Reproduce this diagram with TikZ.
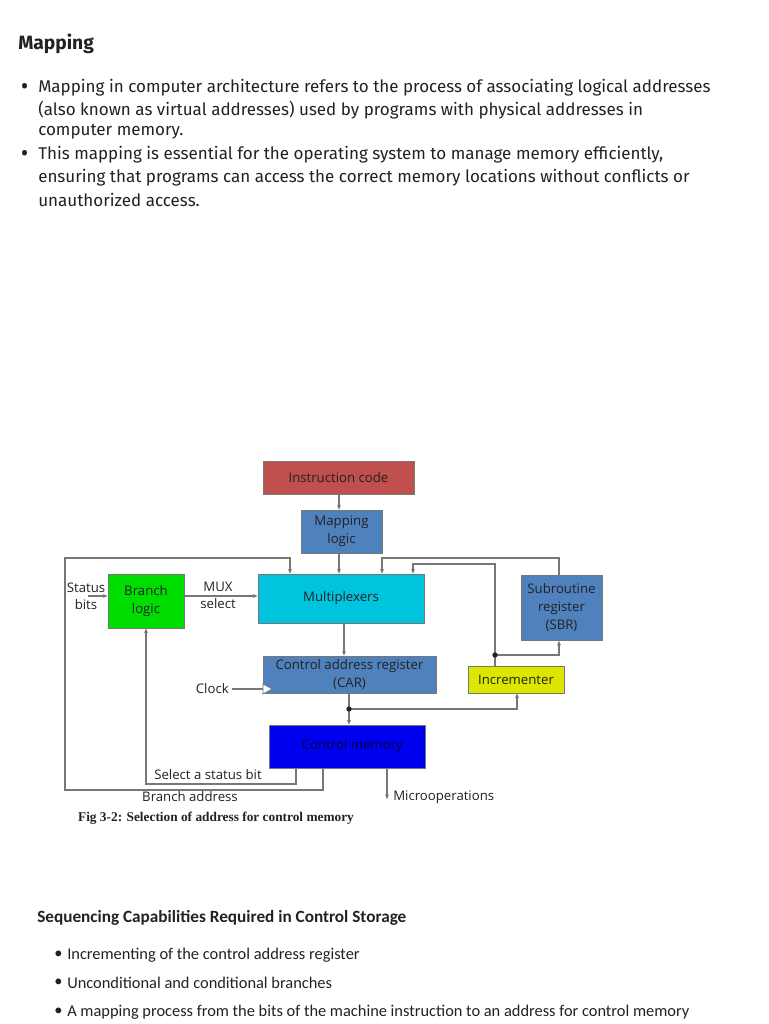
\documentclass[tikz,border=0pt]{standalone}
\usepackage{fontspec}
\usetikzlibrary{arrows.meta,calc}
\setmainfont{Liberation Serif}
\newfontfamily\topfont{Fira Sans}
\newfontfamily\botfont{Carlito}
\newfontfamily\dfont{Open Sans}
\definecolor{icred}{HTML}{C0504D}
\definecolor{mblue}{HTML}{4F81BD}
\definecolor{muxcyan}{HTML}{00C4DE}
\definecolor{blgreen}{HTML}{00DD00}
\definecolor{incyel}{HTML}{DDE600}
\definecolor{cmblue}{HTML}{0000F0}
\definecolor{txt}{HTML}{222222}
\definecolor{wire}{HTML}{777777}
\begin{document}
\begin{tikzpicture}[x=0.75pt,y=-0.75pt,
  box/.style={draw=wire, line width=0.6pt, inner sep=0pt, align=center, font=\dfont\fontsize{9.9pt}{13.5pt}\selectfont, text=txt},
  lbl/.style={inner sep=0pt, align=center, font=\dfont\fontsize{9.9pt}{12.7pt}\selectfont, text=txt},
  wirel/.style={draw=wire, line width=0.8pt},
  arr/.style={wirel, -{Stealth[length=3.5pt,width=3pt]}},
  toptext/.style={anchor=west, inner sep=0pt, font=\topfont\fontsize{12.75pt}{15pt}\selectfont, text=txt},
  topbul/.style={anchor=west, inner sep=0pt, font=\dfont\fontsize{17pt}{15pt}\selectfont, text=txt},
  bottext/.style={anchor=west, inner sep=0pt, font=\botfont\fontsize{12.3pt}{15pt}\selectfont, text=txt},
  dotc/.style={circle, fill=txt, inner sep=0pt, minimum size=4pt}]
\useasboundingbox[fill=white] (0,0) rectangle (768,1024);

% ---- top text ----
\node[anchor=west, inner sep=0pt, font=\topfont\bfseries\fontsize{14.4pt}{17pt}\selectfont, text=txt] (h1) at (18,44) {Mapping};
\node[topbul] (b1) at (20,89) {•};
\node[toptext] (t1) at (38,88) {Mapping in computer architecture refers to the process of associating logical addresses};
\node[toptext] (t2) at (38,110) {(also known as virtual addresses) used by programs with physical addresses in};
\node[toptext] (t3) at (38,132) {computer memory.};
\node[topbul] (b2) at (20,156) {•};
\node[toptext] (t4) at (38,155) {This mapping is essential for the operating system to manage memory efficiently,};
\node[toptext] (t5) at (38,178) {ensuring that programs can access the correct memory locations without conflicts or};
\node[toptext] (t6) at (38,200) {unauthorized access.};

% ---- diagram boxes ----
\node[box, fill=icred, minimum width=151*0.75pt, minimum height=33*0.75pt] (ic) at (338.5,477.5) {Instruction code};
\node[box, fill=mblue, minimum width=81*0.75pt, minimum height=43*0.75pt] (ml) at (341.5,531.5) {Mapping\\logic};
\node[box, fill=muxcyan, minimum width=166*0.75pt, minimum height=49*0.75pt] (mux) at (341,598.5) {Multiplexers};
\node[box, fill=mblue, minimum width=81*0.75pt, minimum height=65*0.75pt] (sbr) at (561.5,608) {Subroutine\\register\\(SBR)};
\node[box, fill=blgreen, minimum width=76*0.75pt, minimum height=54*0.75pt] (bl) at (146,601) {Branch\\logic};
\node[box, fill=mblue, minimum width=173*0.75pt, minimum height=37*0.75pt] (car) at (349.5,674.5) {Control address register\\(CAR)};
\node[box, fill=incyel, minimum width=96*0.75pt, minimum height=27*0.75pt] (inc) at (516,679.5) {Incrementer};
\node[box, fill=cmblue, minimum width=156*0.75pt, minimum height=43*0.75pt, text=black!80!blue] (cm) at (347,746.5) {\hspace*{8pt}Control memory};

% ---- labels ----
\node[lbl] (status) at (86,596) {Status\\bits};
\node[lbl] (muxsel) at (218,595) {MUX\\select};
\node[lbl, anchor=east] (clock) at (229,689) {Clock};
\node[lbl] (ssb) at (208,775) {Select a status bit};
\node[lbl] (badr) at (190,797) {Branch address};
\node[lbl, anchor=west] (micro) at (393,797) {Microoperations};
\node[inner sep=0pt, font=\bfseries\fontsize{10pt}{11pt}\selectfont, text=txt] (cap) at (216,818) {Fig 3-2: Selection of address for control memory};

% ---- coordinates ----
\coordinate (sbin) at (88,596);
\coordinate (clk0) at (232,689);
\coordinate (mo) at (387,799);
\coordinate (d1) at (349,709);
\coordinate (d2) at (495,655);

% ---- connectors ----
\draw[arr] (ic.south -| 339,0) -- (ml.north -| 339,0);
\draw[arr] (ml.south -| 339,0) -- (mux.north -| 339,0);
\draw[arr] (sbin) -- (bl.west |- sbin);
\draw[arr] (bl.east |- sbin) -- (mux.west |- sbin);
% branch address loop
\draw[arr] (cm.south -| 323,0) -- (323,790) -- (65,790) -- (65,558) -- (290,558) -- (mux.north -| 290,0);
% select a status bit
\draw[arr] (cm.south -| 296,0) -- (296,784) -- (146,784) -- (bl.south);
% SBR to mux
\draw[arr] (sbr.north -| 559,0) -- (559,558) -- (382,558) -- (mux.north -| 382,0);
% incrementer to mux
\draw[arr] (inc.north -| 495,0) -- (495,564) -- (413,564) -- (mux.north -| 413,0);
% incrementer to SBR
\draw[arr] (d2) -- (559,655) -- (sbr.south -| 559,0);
% mux to CAR
\draw[arr] (mux.south -| 344,0) -- (car.north -| 344,0);
% CAR to CM and incrementer
\draw[arr] (car.south -| 349,0) -- (cm.north -| 349,0);
\draw[arr] (d1) -- (517,709) -- (inc.south -| 517,0);
% clock
\draw[wirel] (clk0) -- (car.west |- clk0);
\draw[draw=wire, fill=white, line width=0.5pt] (263,684) -- (272,689) -- (263,694) -- cycle;
% microoperations
\draw[arr] (cm.south -| 387,0) -- (mo);
\node[dotc] (dot1) at (d1) {};
\node[dotc] (dot2) at (d2) {};

% ---- bottom text ----
\node[anchor=west, inner sep=0pt, font=\botfont\bfseries\fontsize{12.9pt}{15pt}\selectfont, text=txt] (h2) at (37,918) {Sequencing Capabilities Required in Control Storage};
\node[bottext] (c1) at (54,955) {\textbullet};
\node[bottext] (s1) at (67,955) {Incrementing of the control address register};
\node[bottext] (c2) at (54,983) {\textbullet};
\node[bottext] (s2) at (67,983) {Unconditional and conditional branches};
\node[bottext] (c3) at (54,1012) {\textbullet};
\node[bottext] (s3) at (67,1012) {A mapping process from the bits of the machine instruction to an address for control memory};
\end{tikzpicture}
\end{document}
